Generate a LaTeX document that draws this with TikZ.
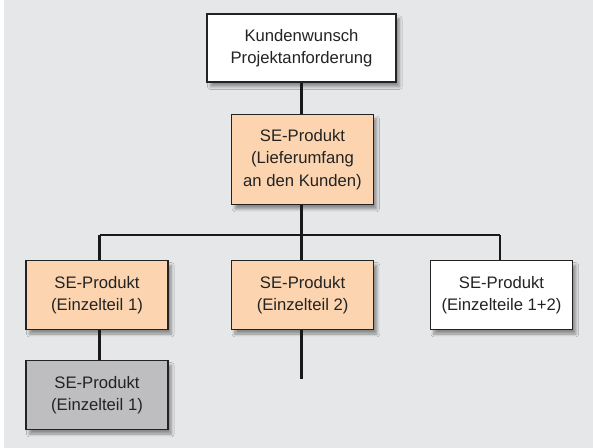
\documentclass[tikz,border=0pt]{standalone}
\usepackage{fontspec}
\setmainfont{Liberation Sans}
\usetikzlibrary{shadows.blur}
\definecolor{bggray}{RGB}{230,231,233}
\definecolor{peach}{RGB}{252,213,176}
\definecolor{boxgray}{RGB}{190,190,192}
\definecolor{inkgray}{RGB}{35,35,35}
\tikzset{
	sebox/.style={draw=inkgray, line width=0.8pt, align=center, text=inkgray,
		font=\fontsize{12.5}{16.9}\selectfont, inner sep=0pt,
		blur shadow={shadow xshift=2.5pt, shadow yshift=-3.5pt, shadow blur steps=8, shadow opacity=40}},
	stem/.style={draw=black!90, line width=2pt},
	bar/.style={draw=black!90, line width=1.5pt}
}
\begin{document}
\begin{tikzpicture}[x=0.75pt,y=-0.75pt]
				\useasboundingbox (0,0) rectangle (593,448);
				\fill[white] (0,0) rectangle (593,448);
				\fill[bggray] (4,0) rectangle (593,448);
				% boxes
				\node[sebox, fill=white, minimum width=141.75pt, minimum height=51pt](kunde) at (301.5,48){Kundenwunsch\\Projektanforderung};
				\node[sebox, fill=peach, minimum width=106.2pt, minimum height=67.5pt](liefer) at (302.5,159.3){SE-Produkt\\(Lieferumfang\\an den Kunden)};
				\node[sebox, fill=peach, minimum width=106.5pt, minimum height=51.5pt](teilA) at (97,295){SE-Produkt\\(Einzelteil 1)};
				\node[sebox, fill=peach, minimum width=106.5pt, minimum height=51.5pt](teilB) at (302.6,295){SE-Produkt\\(Einzelteil 2)};
				\node[sebox, fill=white, minimum width=106.5pt, minimum height=51.5pt](teilC) at (501.5,295){SE-Produkt\\(Einzelteile 1+2)};
				\node[sebox, fill=boxgray, minimum width=106.5pt, minimum height=51.5pt](teilAsub) at (97,395){SE-Produkt\\(Einzelteil 1)};
				% connectors
				\coordinate(bar) at (301.5,235);
				\coordinate(barL) at (99.5,235);
				\coordinate(barR) at (500,235);
				\coordinate(teilBend) at (301.5,378.7);
				\draw[stem](kunde.south -| bar) to (liefer.north -| bar);
				\draw[stem](liefer.south -| bar) to (bar);
				\draw[bar](barL) to (barR);
				\draw[stem](barL) to (teilA.north -| barL);
				\draw[stem](bar) to (teilB.north -| bar);
				\draw[stem](barR) to (teilC.north -| barR);
				\draw[stem](teilB.south -| bar) to (teilBend);
				\draw[stem](teilA.south -| barL) to (teilAsub.north -| barL);
\end{tikzpicture}
\end{document}
